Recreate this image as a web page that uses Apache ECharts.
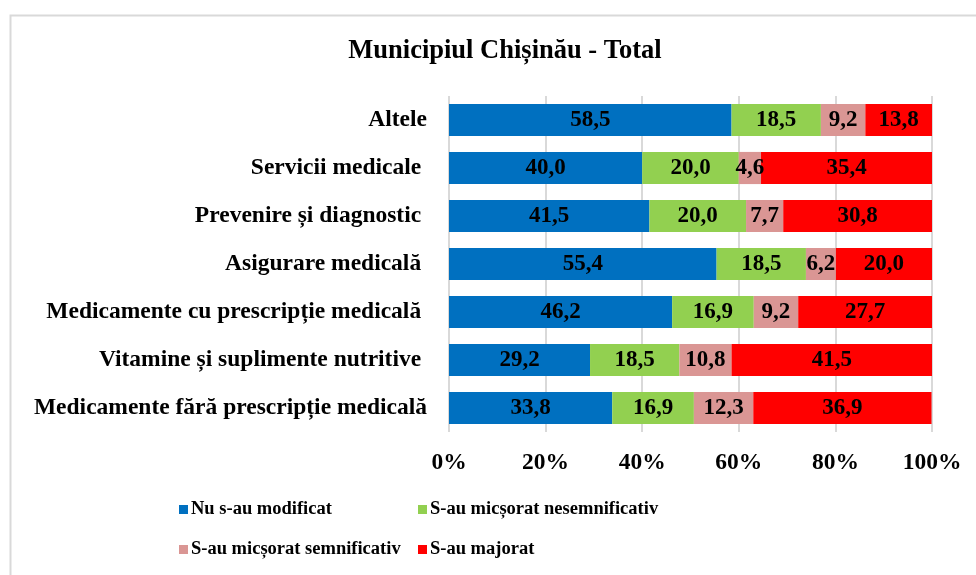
<!DOCTYPE html>
<html>
<head>
<meta charset="utf-8">
<script src="https://cdn.jsdelivr.net/npm/echarts@6/dist/echarts.min.js"></script>
<style>html,body{margin:0;padding:0;background:#fff;}#c{width:976px;height:575px;}</style>
</head>
<body>
<div id="c"></div>
<script>
const categories = [
  "Altele",
  "Servicii medicale ",
  "Prevenire și diagnostic ",
  "Asigurare medicală ",
  "Medicamente cu prescripție medicală ",
  "Vitamine și suplimente nutritive ",
  "Medicamente fără prescripție medicală"
];
const seriesNames = ["Nu s-au modificat", "S-au micșorat nesemnificativ", "S-au micșorat semnificativ", "S-au majorat"];
const nuModificat = [58.5, 40.0, 41.5, 55.4, 46.2, 29.2, 33.8];
const micsNesemn = [18.5, 20.0, 20.0, 18.5, 16.9, 18.5, 16.9];
const micsSemn = [9.2, 4.6, 7.7, 6.2, 9.2, 10.8, 12.3];
const majorat = [13.8, 35.4, 30.8, 20.0, 27.7, 41.5, 36.9];
const tickLabels = ["0%", "20%", "40%", "60%", "80%", "100%"];
const colors = ["#0070C0", "#92D050", "#DA9694", "#FF0000"];

const FONT = "'Liberation Serif', 'Times New Roman', serif";
const values = [nuModificat, micsNesemn, micsSemn, majorat];

const chart = echarts.init(document.getElementById('c'), null, {renderer: 'canvas'});
const legendPos = [[179, 500], [418, 500], [179, 540], [418, 540]];
chart.setOption({
  animation: false,
  backgroundColor: '#fff',
  graphic: [{
    type: 'rect', left: 8, top: 13, z: -1,
    shape: {width: 1000, height: 600},
    style: {fill: 'none', stroke: '#d9d9d9', lineWidth: 2}
  }],
  title: {
    text: 'Municipiul Chișinău - Total',
    left: 500, top: 33, textAlign: 'center',
    textStyle: {fontFamily: FONT, fontWeight: 'bold', fontSize: 26.5, color: '#000'}
  },
  legend: seriesNames.map((n, i) => ({
    data: [n], left: legendPos[i][0], top: legendPos[i][1], padding: 0,
    itemWidth: 9, itemHeight: 9, icon: 'rect',
    textStyle: {fontFamily: FONT, fontWeight: 'bold', fontSize: 18.5, color: '#000', padding: [0, 0, 0, -2]}
  })),
  grid: {left: 449, right: 44, top: 96, height: 336, containLabel: false},
  xAxis: {
    type: 'value', min: 0, max: 100, interval: 20,
    axisLine: {show: false}, axisTick: {show: false},
    splitLine: {show: true, lineStyle: {color: '#d9d9d9', width: 2}},
    axisLabel: {
      margin: 19,
      formatter: (v) => tickLabels[Math.round(v / 20)],
      fontFamily: FONT, fontWeight: 'bold', fontSize: 23.5, color: '#000'
    }
  },
  yAxis: {
    type: 'category', data: categories, inverse: true,
    axisLine: {show: false}, axisTick: {show: false},
    axisLabel: {margin: 22, fontFamily: FONT, fontWeight: 'bold', fontSize: 23.5, color: '#000'}
  },
  series: seriesNames.map((n, i) => ({
    name: n, type: 'bar', stack: 'total', data: values[i],
    barCategoryGap: '33%',
    itemStyle: {color: colors[i]},
    label: {
      show: true, position: 'inside',
      formatter: (p) => p.value.toFixed(1).replace('.', ','),
      fontFamily: FONT, fontWeight: 'bold', fontSize: 23, color: '#000'
    }
  }))
});
</script>
</body>
</html>
